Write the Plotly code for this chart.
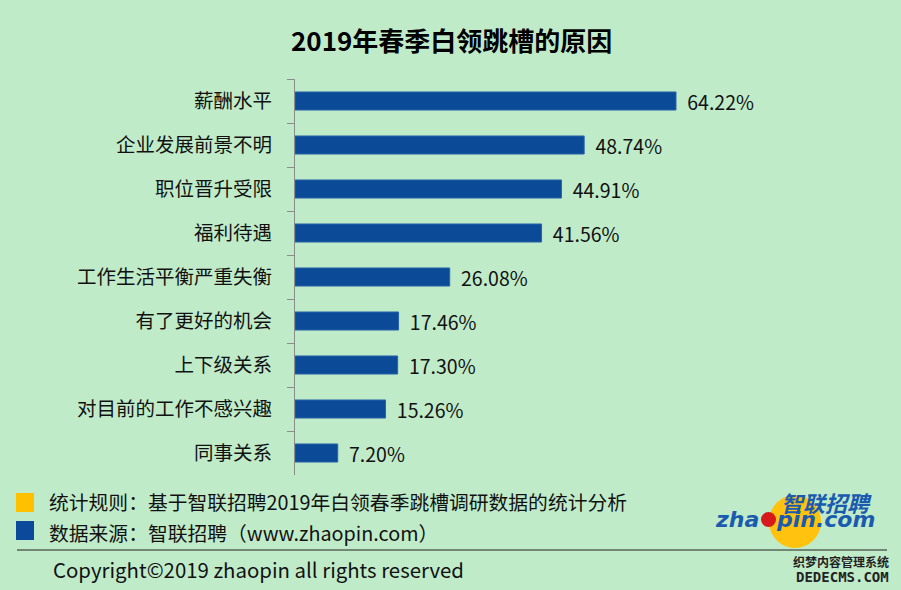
import plotly.graph_objects as go

categories = ["薪酬水平", "企业发展前景不明", "职位晋升受限", "福利待遇", "工作生活平衡严重失衡",
              "有了更好的机会", "上下级关系", "对目前的工作不感兴趣", "同事关系"]
values = [64.22, 48.74, 44.91, 41.56, 26.08, 17.46, 17.30, 15.26, 7.20]
value_labels = ["64.22%", "48.74%", "44.91%", "41.56%", "26.08%", "17.46%", "17.30%", "15.26%", "7.20%"]

FONT = "Noto Sans CJK SC, Noto Sans, sans-serif"
BG = "#C0EBC9"
BLUE = "#0B4A96"

W, H = 901, 590
L, R, T, B = 295, 740, 79, 475

def px(x):
    return (x - L) / (R - L)

def py(y):
    return (B - y) / (B - T)

fig = go.Figure(go.Bar(
    x=values, y=categories, orientation="h",
    marker=dict(color=BLUE, line=dict(color="#2A64AA", width=1)),
    width=0.41,
    text=[" \u2009" + t for t in value_labels], textposition="outside",
    constraintext="none",
    textfont=dict(size=19.5, color="#111111", family=FONT),
    cliponaxis=False, hoverinfo="skip",
))

shapes = [
    dict(type="rect", xref="paper", yref="paper", x0=px(16), x1=px(34), y0=py(512), y1=py(493),
         fillcolor="#FFC000", line=dict(width=0)),
    dict(type="rect", xref="paper", yref="paper", x0=px(16), x1=px(34), y0=py(540), y1=py(521),
         fillcolor="#0B4A9A", line=dict(width=0)),
    dict(type="line", xref="paper", yref="paper", x0=px(17), x1=px(887), y0=py(550), y1=py(550),
         line=dict(color="#222222", width=1.2)),
    # logo circles
    dict(type="circle", xref="paper", yref="paper", x0=px(769), x1=px(821), y0=py(548), y1=py(495),
         fillcolor="#FFC20E", line=dict(width=0)),
    dict(type="circle", xref="paper", yref="paper", x0=px(761), x1=px(776), y0=py(527), y1=py(512),
         fillcolor="#D7191C", line=dict(width=0)),
]

annotations = [
    dict(text="<b>2019年春季白领跳槽的原因</b>", xref="paper", yref="paper", x=px(451), y=py(39),
         showarrow=False, font=dict(size=26, color="#000000", family=FONT), xanchor="center", yanchor="middle"),
    dict(text="统计规则：基于智联招聘2019年白领春季跳槽调研数据的统计分析", xref="paper", yref="paper",
         x=px(47), y=py(501), showarrow=False, xanchor="left", yanchor="middle",
         font=dict(size=19.8, color="#111111", family=FONT)),
    dict(text="数据来源：智联招聘（www.zhaopin.com）", xref="paper", yref="paper",
         x=px(47), y=py(532), showarrow=False, xanchor="left", yanchor="middle",
         font=dict(size=19.8, color="#111111", family=FONT)),
    dict(text="Copyright©2019 zhaopin all rights reserved", xref="paper", yref="paper",
         x=px(51), y=py(569), showarrow=False, xanchor="left", yanchor="middle",
         font=dict(size=20.4, color="#111111", family=FONT)),
    dict(text="<b><i>智联招聘</i></b>", xref="paper", yref="paper",
         x=px(874), y=py(502), showarrow=False, xanchor="right", yanchor="middle",
         font=dict(size=22, color="#1A5BB0", family=FONT)),
    dict(text="<b><i>zha</i></b>", xref="paper", yref="paper",
         x=px(761), y=py(519), showarrow=False, xanchor="right", yanchor="middle",
         font=dict(size=22, color="#1A5BB0", family="DejaVu Sans, sans-serif")),
    dict(text="<b><i>pin.com</i></b>", xref="paper", yref="paper",
         x=px(774), y=py(519), showarrow=False, xanchor="left", yanchor="middle",
         font=dict(size=22, color="#1A5BB0", family="DejaVu Sans, sans-serif")),
    dict(text="<b>织梦内容管理系统</b>", xref="paper", yref="paper",
         x=px(891), y=py(561), showarrow=False, xanchor="right", yanchor="middle",
         font=dict(size=12, color="#222222", family=FONT)),
    dict(text="<b>DEDECMS.COM</b>", xref="paper", yref="paper",
         x=px(891), y=py(577), showarrow=False, xanchor="right", yanchor="middle",
         font=dict(size=14, color="#222222", family="DejaVu Sans Mono, monospace")),
]

fig.update_layout(
    width=W, height=H,
    margin=dict(l=L, r=W - R, t=T, b=H - B, pad=0),
    paper_bgcolor=BG, plot_bgcolor=BG,
    showlegend=False,
    shapes=shapes, annotations=annotations,
    xaxis=dict(range=[0, (R - L) / ((676 - 295) / 64.22)], visible=False, fixedrange=True),
    yaxis=dict(autorange="reversed", showline=True, linecolor="#8C8C8C", linewidth=1,
               ticks="outside", tickson="boundaries", ticklen=7, tickcolor="#8C8C8C",
               tickfont=dict(size=19.5, color="#111111", family=FONT), ticklabelstandoff=18,
               showgrid=False, zeroline=False),
    font=dict(family=FONT),
)

fig.write_html("out.html", config={"displayModeBar": False},
               post_script="document.body.style.margin='0';document.body.style.overflow='hidden';document.body.style.background='" + BG + "';")
